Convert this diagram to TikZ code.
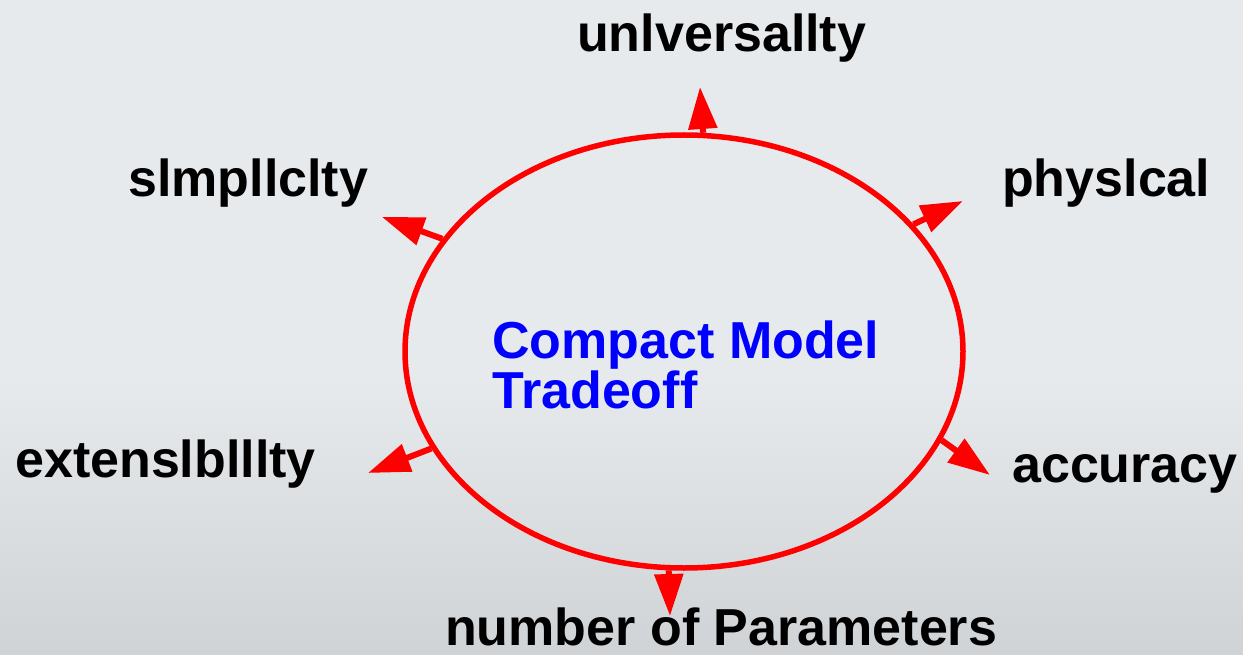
\documentclass[tikz,border=0pt]{standalone}
\usepackage{fontspec}
\setmainfont{Liberation Sans}
\usetikzlibrary{arrows.meta,shapes.geometric}
\definecolor{bgtop}{RGB}{231,234,237}
\definecolor{bgbot}{RGB}{208,211,214}
\definecolor{arrred}{RGB}{255,0,0}
\definecolor{txtblue}{RGB}{0,0,255}
\begin{document}
\begin{tikzpicture}[x=1pt,y=-1pt,
  lbl/.style={font=\fontsize{52}{46}\selectfont\bfseries, text=black, inner sep=0pt, anchor=base west},
  ctr/.style={font=\fontsize{52}{46}\selectfont\bfseries, text=txtblue, inner sep=0pt, anchor=base west, align=left},
  ring/.style={ellipse, draw=arrred, line width=5.5pt, minimum width=558pt, minimum height=433pt, inner sep=0pt},
  outarrow/.style={draw=arrred, line width=6pt, -{Triangle[length=42pt,width=28pt]}}]
\useasboundingbox (0,0) rectangle (1243,655);
\fill[bgtop] (0,0) rectangle (1243,655);
\shade[top color=bgtop, bottom color=bgbot] (0,380) rectangle (1243,655);
\node[ring] (core) at (684,351.5) {};
\node[ctr] (title) at (492,408) {Compact Model\\Tradeoff};
\node[lbl] (univ) at (577,52) {unlversallty};
\node[lbl] (simp) at (128,197) {slmpllclty};
\node[lbl] (phys) at (1002,197) {physlcal};
\node[lbl] (ext) at (15,477) {extenslblllty};
\node[lbl] (acc) at (1012,482) {accuracy};
\node[lbl] (num) at (445,645) {number of Parameters};
\coordinate (tU) at (700,87);
\coordinate (tS) at (382,217);
\coordinate (tP) at (963,201);
\coordinate (tE) at (368,473);
\coordinate (tA) at (990,475);
\coordinate (tN) at (670,616);
\draw[outarrow] (core.85) -- (tU);
\draw[outarrow] (core.155.8) -- (tS);
\draw[outarrow] (core.29.3) -- (tP);
\draw[outarrow] (core.201.2) -- (tE);
\draw[outarrow] (core.-19.7) -- (tA);
\draw[outarrow] (core.266.3) -- (tN);
\end{tikzpicture}
\end{document}
